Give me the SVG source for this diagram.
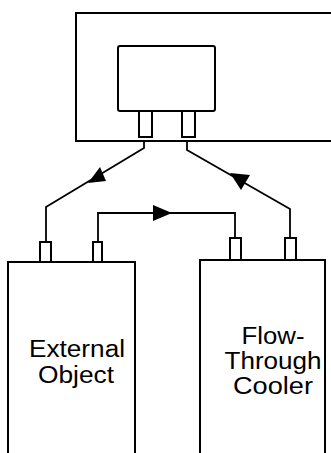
<svg xmlns="http://www.w3.org/2000/svg" width="331" height="453" viewBox="0 0 331 453">
<style>
.box{fill:#fff;stroke:#000;stroke-width:2}
.port{fill:#fff;stroke:#000;stroke-width:2}
.wire{fill:none;stroke:#000;stroke-width:1.8}
.lbl{font-family:"Liberation Sans",Arial,sans-serif;font-size:23px;fill:#000;text-anchor:middle}
</style>
<rect width="331" height="453" fill="#fff"/>
<g id="connectors">
<polyline class="wire" points="144,138 144,148 46,207 46,242"/>
<polygon points="88,183 100,167 106,181" fill="#000"/>
<polyline class="wire" points="187,138 187,150 290,209 290,238"/>
<polygon points="230,173 250,175 241,190" fill="#000"/>
<polyline class="wire" points="98,242 98,213 235,213 235,238"/>
<polygon points="172,213 153,205 153,221" fill="#000"/>
</g>
<g id="housing">
<rect class="box" x="76" y="13" width="270" height="128"/>
</g>
<g id="unit">
<rect class="box" x="118" y="46" width="97" height="65" rx="2"/>
<rect class="port" x="139" y="111" width="13" height="26"/>
<rect class="port" x="182" y="111" width="13" height="26"/>
</g>
<g id="external-object">
<rect class="port" x="40" y="242" width="11" height="20"/>
<rect class="port" x="93" y="242" width="9" height="20"/>
<rect class="box" x="8" y="262" width="127" height="200"/>
<text class="lbl" x="77" y="357" textLength="96" lengthAdjust="spacingAndGlyphs">External</text>
<text class="lbl" x="76" y="383" textLength="76" lengthAdjust="spacingAndGlyphs">Object</text>
</g>
<g id="cooler">
<rect class="port" x="230" y="238" width="11" height="22"/>
<rect class="port" x="285" y="238" width="11" height="22"/>
<rect class="box" x="200" y="260" width="125" height="200"/>
<text class="lbl" x="273" y="344" textLength="63" lengthAdjust="spacingAndGlyphs">Flow-</text>
<text class="lbl" x="273" y="369" textLength="97" lengthAdjust="spacingAndGlyphs">Through</text>
<text class="lbl" x="273" y="394" textLength="80" lengthAdjust="spacingAndGlyphs">Cooler</text>
</g>
</svg>
